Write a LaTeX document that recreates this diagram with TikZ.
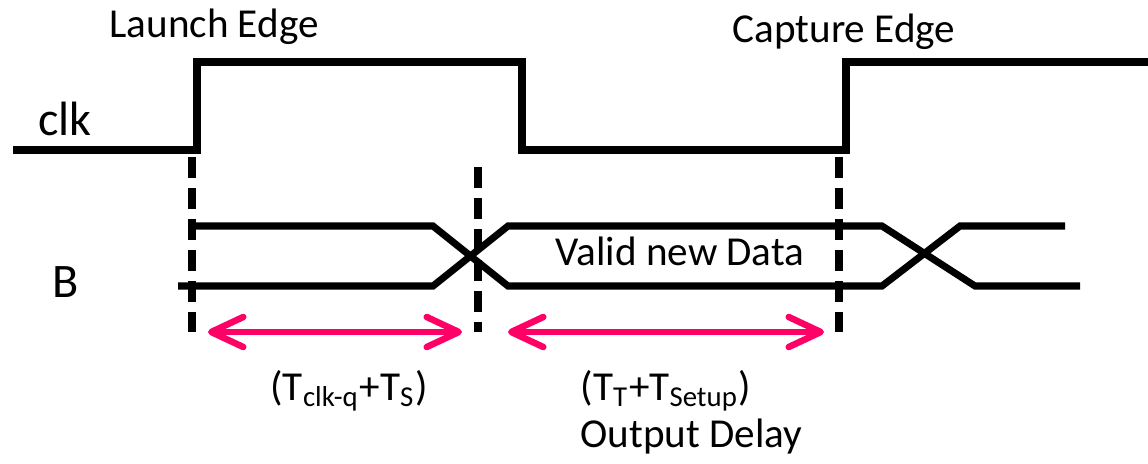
\documentclass[tikz,border=0pt]{standalone}
\usepackage{fontspec}
\setmainfont{Carlito}
\usepackage{xcolor}
\usetikzlibrary{arrows.meta, positioning}
\definecolor{rosa}{RGB}{255,0,102}

\begin{document}
\begin{tikzpicture}[x = 0.01cm, y = -0.01cm,
    segnale/.style = {line width = 2pt},
    tratteggio/.style = {line width = 2.2pt, dash pattern = on 0.21cm off 0.1cm},
    freccia/.style = {rosa, line width = 1.85pt,
        {Straight Barb[length = 0.32cm, width = 0.3cm, round]}-{Straight Barb[length = 0.32cm, width = 0.3cm, round]}},
    testo/.style = {font = \fontsize{11.7}{14}\selectfont, inner sep = 0pt},
    grande/.style = {font = \fontsize{13.7}{16}\selectfont, inner sep = 0pt}]
    % Parametri
    \pgfmathsetmacro{\ylo}{150}
    \pgfmathsetmacro{\yhi}{62}
    \pgfmathsetmacro{\xl}{197}
    \pgfmathsetmacro{\xf}{522}
    \pgfmathsetmacro{\xc}{846}
    \pgfmathsetmacro{\yu}{226}
    \pgfmathsetmacro{\yd}{286}
    \pgfmathsetmacro{\yf}{332}
    \useasboundingbox (0,0) rectangle (1148,463);
    % Clock
    \draw[segnale] (13,\ylo) -- (\xl,\ylo) -- (\xl,\yhi) -- (\xf,\yhi) -- (\xf,\ylo)
        -- (\xc,\ylo) -- (\xc,\yhi) -- (1148,\yhi);
    % Linee tratteggiate
    \draw[tratteggio] (192,157) -- (192,\yf);
    \draw[tratteggio] (478,167) -- (478,\yf);
    \draw[tratteggio] (839,157) -- (839,\yf);
    % Dato B
    \draw[segnale] (192,\yu) -- (433,\yu) -- (508,\yd) -- (882,\yd) -- (960,\yu) -- (1065,\yu);
    \draw[segnale] (178,\yd) -- (433,\yd) -- (508,\yu) -- (882,\yu) -- (975,\yd) -- (1080,\yd);
    % Frecce
    \coordinate (f1a) at (208,\yf);
    \coordinate (f1b) at (462,\yf);
    \coordinate (f2a) at (508,\yf);
    \coordinate (f2b) at (824,\yf);
    \draw[freccia] (f1a) -- (f1b);
    \draw[freccia] (f2a) -- (f2b);
    % Testi
    \node[testo, anchor = base] (lancio) at (214,37) {Launch Edge};
    \node[testo, anchor = base] (cattura) at (844,42) {Capture Edge};
    \node[grande, anchor = base] (clk) at (65,135) {clk};
    \node[grande, anchor = base] (dato) at (66,297) {B};
    \node[testo, anchor = base] (valido) at (680,265) {Valid new Data};
    \node[testo, anchor = base] (tcq) at (349,400) {(T\textsubscript{clk-q}+T\textsubscript{S})};
    \node[testo, anchor = base west] (ttsu) at (580,400) {(T\textsubscript{T}+T\textsubscript{Setup})};
    \node[testo, anchor = base west] (ritardo) at (580,447) {Output Delay};
\end{tikzpicture}
\end{document}
